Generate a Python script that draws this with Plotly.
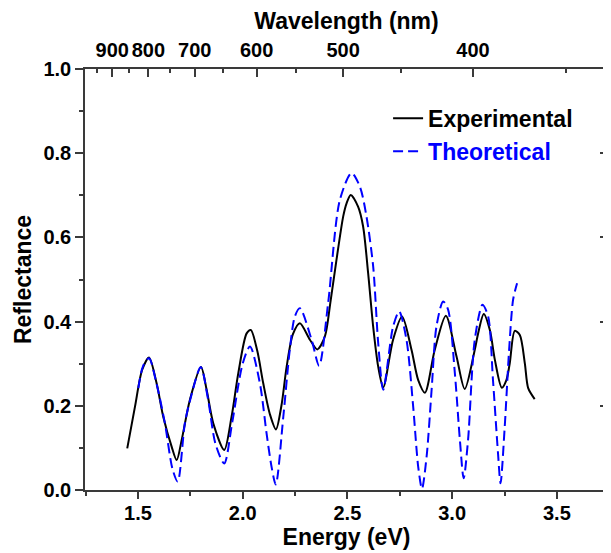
import plotly.graph_objects as go

# Experimental reflectance
exp_energy = [1.449, 1.486, 1.520, 1.553, 1.589, 1.621, 1.661, 1.685, 1.709, 1.748,
              1.801, 1.828, 1.860, 1.912, 1.947, 1.979, 2.019, 2.039, 2.070, 2.098,
              2.130, 2.159, 2.185, 2.210, 2.240, 2.273, 2.321, 2.356, 2.392, 2.420,
              2.448, 2.480, 2.496, 2.516, 2.551, 2.575, 2.599, 2.623, 2.647, 2.671,
              2.718, 2.761, 2.806, 2.838, 2.870, 2.917, 2.970, 3.021, 3.060, 3.108,
              3.124, 3.151, 3.180, 3.204, 3.237, 3.259, 3.275, 3.299, 3.323, 3.347,
              3.363, 3.394]
exp_refl = [0.099, 0.198, 0.285, 0.315, 0.254, 0.174, 0.103, 0.071, 0.119, 0.214,
            0.292, 0.238, 0.158, 0.095, 0.174, 0.277, 0.372, 0.380, 0.330, 0.254,
            0.180, 0.144, 0.200, 0.293, 0.370, 0.396, 0.357, 0.334, 0.364, 0.450,
            0.547, 0.650, 0.681, 0.701, 0.673, 0.626, 0.515, 0.388, 0.293, 0.244,
            0.357, 0.412, 0.333, 0.261, 0.231, 0.333, 0.414, 0.317, 0.240, 0.333,
            0.372, 0.418, 0.380, 0.309, 0.243, 0.261, 0.301, 0.378, 0.368, 0.301,
            0.242, 0.216]

# Theoretical reflectance
theo_energy = [1.502, 1.525, 1.553, 1.590, 1.629, 1.665, 1.690, 1.724, 1.750, 1.800,
               1.835, 1.870, 1.912, 1.950, 2.000, 2.035, 2.082, 2.114, 2.138, 2.158,
               2.194, 2.225, 2.249, 2.273, 2.329, 2.365, 2.408, 2.464, 2.520, 2.560,
               2.591, 2.623, 2.647, 2.671, 2.718, 2.747, 2.782, 2.814, 2.838, 2.856,
               2.878, 2.902, 2.925, 2.957, 2.981, 3.013, 3.037, 3.055, 3.076, 3.108,
               3.145, 3.172, 3.195, 3.219, 3.231, 3.251, 3.272, 3.291, 3.310]
theo_refl = [0.242, 0.295, 0.313, 0.250, 0.158, 0.050, 0.020, 0.158, 0.215, 0.292,
             0.215, 0.110, 0.063, 0.160, 0.300, 0.341, 0.254, 0.135, 0.055, 0.013,
             0.174, 0.333, 0.412, 0.432, 0.357, 0.295, 0.444, 0.689, 0.753, 0.720,
             0.650, 0.531, 0.349, 0.238, 0.388, 0.424, 0.357, 0.198, 0.055, 0.003,
             0.079, 0.238, 0.388, 0.448, 0.428, 0.277, 0.119, 0.028, 0.119, 0.357,
             0.440, 0.412, 0.261, 0.087, 0.016, 0.150, 0.333, 0.452, 0.491]

# Top axis: wavelength ticks (nm)
wl_major = [900, 800, 700, 600, 500, 400]
wl_minor = [950, 850, 750, 650, 550, 450, 350]
HC = 1239.84  # eV*nm

x_range = [1.2474, 3.744]
y_range = [0.0, 1.0]

FONT = "Liberation Sans, Arial, sans-serif"
AXC = "#3a3a3a"

fig = go.Figure()
fig.add_trace(go.Scatter(
    x=exp_energy, y=exp_refl, mode="lines", name="Experimental",
    line=dict(color="black", width=2, shape="spline", smoothing=0.8)))
fig.add_trace(go.Scatter(
    x=theo_energy, y=theo_refl, mode="lines",
    name='<span style="color:#0000ff">Theoretical</span>',
    line=dict(color="#0000ff", width=2, dash="10px,5px", shape="spline", smoothing=0.8)))
# invisible trace to activate the top/right axes
fig.add_trace(go.Scatter(x=[x_range[0]], y=[0], xaxis="x2", yaxis="y2",
                         mode="markers", marker=dict(opacity=0), showlegend=False,
                         hoverinfo="skip"))

fig.update_layout(
    width=611, height=553,
    margin=dict(l=77, r=11, t=61, b=71, autoexpand=False),
    paper_bgcolor="white", plot_bgcolor="white",
    font=dict(family=FONT, size=20, color="black", weight="bold"),
    showlegend=True,
    legend=dict(x=0.5795, y=0.934, xanchor="left", yanchor="top",
                bgcolor="rgba(0,0,0,0)", font=dict(size=23, weight="bold"),
                itemwidth=30, tracegroupgap=0),
    xaxis=dict(range=x_range, showline=True, linecolor=AXC, linewidth=1.5,
               mirror=True, ticks="outside", ticklen=7, tickwidth=1.5, tickcolor=AXC,
               tick0=1.5, dtick=0.5, tickformat=".1f", showgrid=False, zeroline=False,
               automargin=False, ticklabelstandoff=-3,
               minor=dict(dtick=0.25, tick0=1.5, ticks="outside", ticklen=4,
                          tickwidth=1.5, tickcolor=AXC, showgrid=False),
               title=dict(text="Energy (eV)", font=dict(size=23, weight="bold"), standoff=0)),
    yaxis=dict(range=y_range, showline=True, linecolor=AXC, linewidth=1.5,
               mirror=True, ticks="outside", ticklen=8, tickwidth=1.5, tickcolor=AXC,
               tick0=0, dtick=0.2, tickformat=".1f", showgrid=False, zeroline=False,
               automargin=False,
               minor=dict(dtick=0.1, tick0=0, ticks="outside", ticklen=4,
                          tickwidth=1.5, tickcolor=AXC, showgrid=False),
               title=dict(text="Reflectance", font=dict(size=23, weight="bold"), standoff=5)),
    xaxis2=dict(range=x_range, overlaying="x", side="top", anchor="y",
                tickmode="array", tickvals=[HC / w for w in wl_major],
                ticktext=[str(w) for w in wl_major],
                ticks="inside", ticklen=8, tickwidth=1.5, tickcolor=AXC,
                showline=False, showgrid=False, zeroline=False,
                automargin=False, ticklabelstandoff=7,
                minor=dict(tickmode="array", tickvals=[HC / w for w in wl_minor],
                           ticks="inside", ticklen=4, tickwidth=1.5, tickcolor=AXC,
                           showgrid=False),
                title=dict(text="Wavelength (nm)", font=dict(size=23, weight="bold"), standoff=9)),
    yaxis2=dict(range=y_range, overlaying="y", side="right", anchor="x",
                showticklabels=False, ticks="inside", ticklen=8, tickwidth=1.5,
                tickcolor=AXC, tick0=0, dtick=0.2, showgrid=False, zeroline=False,
                showline=False, automargin=False,
                minor=dict(dtick=0.1, tick0=0, ticks="inside", ticklen=4,
                           tickwidth=1.5, tickcolor=AXC, showgrid=False)),
)

fig.write_html("out.html")
